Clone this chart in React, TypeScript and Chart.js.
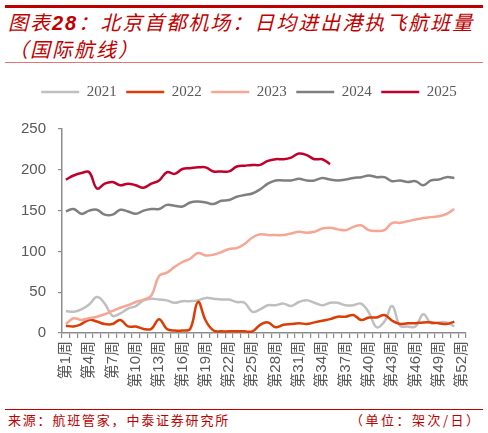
import { useEffect, useRef } from "react"
import { Chart, registerables } from "chart.js"

Chart.register(...registerables)

// categories: weeks of the year
const weeks = Array.from({ length: 52 }, (_, i) => `第${i + 1}周`)
const labelEvery = 3

const years = ["2021", "2022", "2023", "2024", "2025"]
const colors = ["#bfbfbf", "#dc3c06", "#f6a695", "#7f7f7f", "#c0002b"]

// daily flights (international)
const y2021 = [
  27, 26, 29, 35, 44, 36, 21, 24, 30, 33, 40, 42, 41, 40, 37, 39, 39, 40, 43, 42, 41, 41, 38, 37, 26, 29,
  34, 34, 36, 33, 38, 40, 37, 34, 37, 37, 34, 34, 36, 25, 7, 14, 33, 9, 8, 8, 23, 12, 13, 13, 8,
]
const y2022 = [
  9, 8, 11, 16, 14, 11, 11, 16, 8, 8, 5, 5, 17, 5, 3, 3, 5, 38, 15, 3, 2, 2, 2, 2, 2, 10, 13, 7, 10, 11,
  12, 11, 13, 15, 17, 20, 20, 22, 16, 19, 19, 22, 15, 11, 12, 12, 13, 13, 12, 11, 14,
]
const y2023 = [
  11, 18, 16, 18, 20, 23, 27, 31, 34, 38, 41, 46, 70, 74, 81, 87, 91, 98, 95, 96, 99, 103, 104, 109, 117,
  121, 120, 120, 120, 122, 124, 123, 124, 128, 129, 127, 126, 130, 132, 126, 125, 126, 135, 135, 137, 139,
  141, 142, 143, 146, 152,
]
const y2024 = [
  149, 152, 146, 150, 151, 145, 145, 151, 149, 146, 150, 152, 152, 157, 156, 155, 160, 161, 160, 158, 162,
  163, 167, 169, 171, 176, 183, 187, 187, 187, 189, 187, 187, 190, 188, 187, 188, 190, 191, 193, 191, 191,
  186, 187, 185, 186, 181, 187, 188, 191, 190,
]
const y2025 = [
  188, 193, 196, 197, 177, 183, 185, 181, 183, 181, 178, 183, 187, 197, 195, 201, 202, 203, 203, 198, 198,
  198, 204, 205, 206, 206, 211, 213, 213, 215, 220, 218, 213, 213, 207,
]
const series = [y2021, y2022, y2023, y2024, y2025]

const yMin = 0
const yMax = 250
const yStep = 50

const red = "#c00000"
const axisColor = "#8c8c8c"
const tickColor = "#595959"

// space under the legend and shift it a bit right, like the original
const legendTweak = {
  id: "legendTweak",
  beforeInit(chart: any) {
    const fit = chart.legend.fit
    chart.legend.fit = function () {
      fit.bind(chart.legend)()
      this.height += 19.5
    }
  },
  afterLayout(chart: any) {
    chart.legend.left += 16
    chart.legend.right += 16
  },
}

function FlightsChart() {
  const chartRef = useRef<HTMLCanvasElement>(null)
  const chartInstance = useRef<Chart | null>(null)

  useEffect(() => {
    if (!chartRef.current) return
    if (chartInstance.current) chartInstance.current.destroy()
    const ctx = chartRef.current.getContext("2d")
    if (!ctx) return

    chartInstance.current = new Chart(ctx, {
      type: "line",
      data: {
        labels: weeks,
        datasets: years.map((y, i) => ({
          label: y,
          data: series[i],
          borderColor: colors[i],
          backgroundColor: colors[i],
          borderWidth: 2.5,
          pointRadius: 0,
          tension: 0.4,
          fill: false,
          order: years.length - i,
        })),
      },
      options: {
        responsive: true,
        maintainAspectRatio: false,
        animation: false,
        events: [],
        layout: { padding: { top: 7, right: 22, left: 0, bottom: 0 } },
        plugins: {
          tooltip: { enabled: false },
          legend: {
            position: "top",
            labels: {
              usePointStyle: true,
              pointStyle: "line",
              pointStyleWidth: 38,
              padding: 9.5,
              color: tickColor,
              font: { family: "'Liberation Serif', serif", size: 15 },
              sort: (a: any, b: any) => a.datasetIndex - b.datasetIndex,
            },
          },
        },
        scales: {
          x: {
            offset: true,
            grid: { offset: true, drawOnChartArea: false, tickLength: 5, color: axisColor, lineWidth: 1.2 },
            border: { color: axisColor, width: 1.5 },
            ticks: {
              autoSkip: false,
              minRotation: 90,
              maxRotation: 90,
              padding: 3,
              color: tickColor,
              font: { family: "'Liberation Sans', 'Noto Sans CJK SC', sans-serif", size: 15 },
              callback: (_v: any, i: number) => (i % labelEvery === 0 ? weeks[i] : ""),
            },
            afterFit: (scale: any) => {
              scale.height = 70
            },
          },
          y: {
            min: yMin,
            max: yMax,
            grid: { drawOnChartArea: false, tickLength: 4, color: axisColor, lineWidth: 1.2 },
            border: { color: axisColor, width: 1.5 },
            ticks: {
              stepSize: yStep,
              padding: 12,
              color: tickColor,
              font: { family: "'Liberation Sans', sans-serif", size: 15 },
            },
            afterFit: (scale: any) => {
              scale.width = 62
            },
          },
        },
      },
      plugins: [legendTweak],
    })

    return () => {
      if (chartInstance.current) {
        chartInstance.current.destroy()
        chartInstance.current = null
      }
    }
  }, [])

  return (
    <div style={{ position: "absolute", left: 0, top: 68, width: 488, height: 335 }}>
      <canvas ref={chartRef} />
    </div>
  )
}

export default function App() {
  useEffect(() => {
    document.body.style.margin = "0"
  }, [])

  const cjk = "'Noto Sans CJK SC', sans-serif"

  return (
    <div
      style={{
        position: "relative",
        width: 488,
        height: 433,
        overflow: "hidden",
        background: "#fff",
        fontFamily: cjk,
      }}
    >
      <div style={{ position: "absolute", left: 5, top: 5, width: 478, height: 2.5, background: red }} />
      <div
        style={{
          position: "absolute",
          left: 8,
          top: 9,
          color: red,
          fontSize: 20,
          lineHeight: "26px",
          fontStyle: "italic",
          letterSpacing: 2,
          whiteSpace: "nowrap",
        }}
      >
        图表<b style={{ fontFamily: "'Liberation Sans', sans-serif" }}>28</b>：北京首都机场：日均进出港执飞航班量
        <br />
        （国际航线）
      </div>
      <div style={{ position: "absolute", left: 5, top: 61.5, width: 478, height: 1.5, background: "#e27474" }} />

      <FlightsChart />

      <div style={{ position: "absolute", left: 5, top: 409, width: 478, height: 1, background: red }} />
      <div
        style={{
          position: "absolute",
          left: 8,
          top: 412,
          color: red,
          fontSize: 13,
          lineHeight: "16px",
          letterSpacing: 1.8,
          whiteSpace: "nowrap",
        }}
      >
        来源：航班管家，中泰证券研究所
      </div>
      <div
        style={{
          position: "absolute",
          left: 350,
          top: 412,
          color: red,
          fontSize: 13,
          lineHeight: "16px",
          letterSpacing: 2.5,
          whiteSpace: "nowrap",
        }}
      >
        （单位：架次/日）
      </div>
    </div>
  )
}
